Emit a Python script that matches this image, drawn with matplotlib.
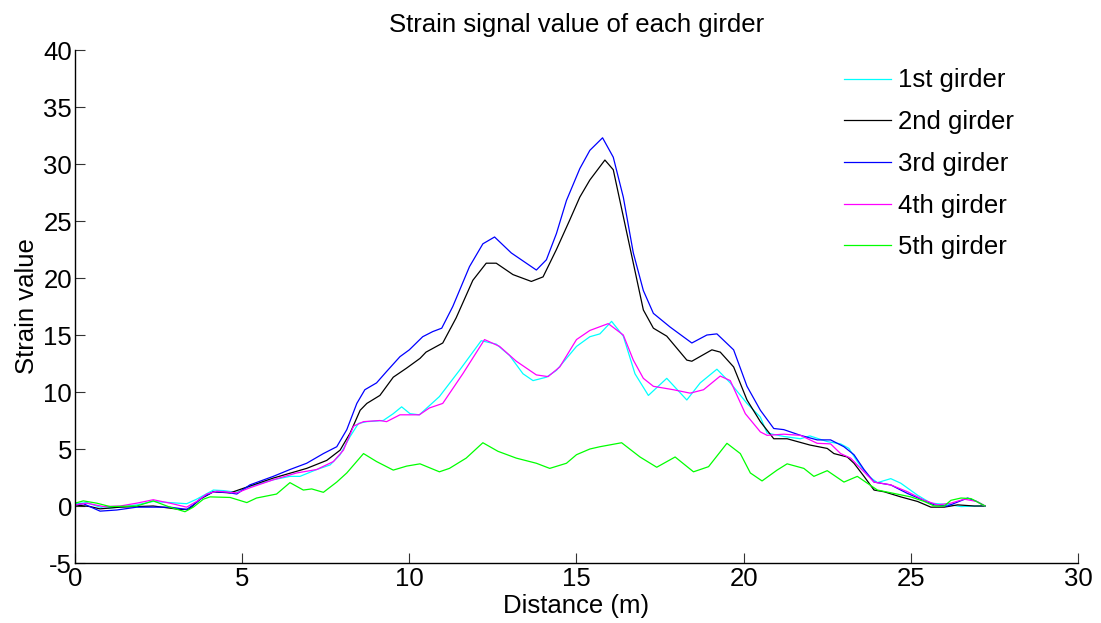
import matplotlib
matplotlib.use("Agg")
import matplotlib.pyplot as plt

plt.rcParams['font.family'] = ['Liberation Sans', 'DejaVu Sans']
plt.rcParams['axes.unicode_minus'] = False

title = "Strain signal value of each girder"
xlabel = "Distance (m)"
ylabel = "Strain value"
labels = ["1st girder", "2nd girder", "3rd girder", "4th girder", "5th girder"]
colors = ["#00ffff", "#000000", "#0000ff", "#ff00ff", "#00ff00"]
xticks = [0, 5, 10, 15, 20, 25, 30]
yticks = [-5, 0, 5, 10, 15, 20, 25, 30, 35, 40]

# 1st girder (cyan)
x1 = [0.0, 0.35, 0.85, 1.35, 1.85, 2.34, 2.84, 3.34, 3.64, 4.14, 4.44, 4.84, 5.23, 5.93, 6.43, 6.73,
      7.23, 7.63, 7.93, 8.23, 8.48, 8.73, 9.22, 9.52, 9.77, 10.02, 10.3, 10.9, 11.5, 12.15, 12.6, 13.0,
      13.4, 13.7, 14.1, 14.4, 15.0, 15.4, 15.7, 16.05, 16.4, 16.75, 17.15, 17.7, 18.3, 18.7, 19.2, 19.6,
      20.1, 20.5, 20.7, 21.2, 21.7, 21.98, 22.5, 22.9, 23.15, 23.4, 23.7, 24.0, 24.4, 24.7, 25.2, 25.6,
      26.2, 26.5, 26.97, 27.22]
y1 = [0.2, 0.3, -0.2, -0.1, 0.1, 0.4, 0.3, 0.2, 0.6, 1.4, 1.35, 1.2, 1.7, 2.3, 2.6, 2.6,
      3.2, 3.6, 4.5, 6.1, 7.25, 7.4, 7.5, 8.1, 8.7, 8.1, 8.0, 9.6, 11.9, 14.5, 14.2, 13.2,
      11.6, 11.0, 11.3, 11.9, 14.0, 14.85, 15.1, 16.2, 14.9, 11.6, 9.7, 11.2, 9.3, 10.8, 12.0, 10.8,
      9.0, 7.8, 6.4, 6.1, 5.9, 6.15, 5.65, 5.45, 5.05, 3.9, 2.7, 2.05, 2.4, 2.0, 0.95, 0.25,
      0.1, -0.05, 0.0, 0.0]

# 2nd girder (black)
x2 = [0.0, 0.45, 0.75, 1.35, 2.34, 3.14, 3.4, 3.74, 4.14, 4.64, 5.23, 5.93, 6.93, 7.53, 7.93, 8.23,
      8.53, 8.73, 9.12, 9.52, 9.92, 10.32, 10.5, 11.0, 11.4, 11.9, 12.3, 12.6, 13.1, 13.65, 14.0, 14.4,
      14.8, 15.1, 15.4, 15.85, 16.1, 16.4, 16.7, 17.0, 17.3, 17.7, 18.3, 18.45, 19.05, 19.3, 19.7, 20.1,
      20.5, 20.9, 21.3, 21.98, 22.5, 22.7, 23.1, 23.3, 23.6, 23.9, 24.2, 24.7, 25.2, 25.6, 26.0, 26.4,
      26.9, 27.22]
y2 = [0.1, -0.05, -0.25, -0.1, 0.0, -0.3, -0.3, 0.6, 1.25, 1.15, 1.75, 2.45, 3.3, 4.0, 4.9, 6.4,
      8.4, 9.0, 9.7, 11.3, 12.1, 12.95, 13.5, 14.3, 16.5, 19.8, 21.3, 21.3, 20.3, 19.7, 20.1, 22.5,
      25.1, 27.1, 28.6, 30.35, 29.5, 25.4, 21.3, 17.2, 15.6, 14.9, 12.8, 12.7, 13.7, 13.5, 12.2, 9.3,
      7.4, 5.9, 5.9, 5.35, 5.05, 4.6, 4.3, 3.75, 2.6, 1.4, 1.25, 0.8, 0.4, -0.1, -0.1, 0.1,
      0.0, 0.0]

# 3rd girder (blue)
x3 = [0.0, 0.25, 0.75, 1.25, 1.85, 2.84, 3.34, 3.54, 3.84, 4.14, 4.54, 4.84, 5.23, 5.93, 6.43, 6.93,
      7.43, 7.83, 8.13, 8.43, 8.67, 9.02, 9.32, 9.72, 10.0, 10.4, 10.7, 10.97, 11.3, 11.8, 12.2, 12.55,
      13.05, 13.4, 13.8, 14.1, 14.4, 14.7, 15.1, 15.4, 15.78, 16.1, 16.4, 16.7, 17.0, 17.3, 17.8, 18.45,
      18.9, 19.2, 19.7, 20.1, 20.5, 20.9, 21.2, 21.7, 22.2, 22.6, 23.0, 23.3, 23.6, 23.9, 24.4, 24.9,
      25.3, 25.7, 26.1, 26.7, 26.97, 27.22]
y3 = [0.1, 0.2, -0.45, -0.35, -0.1, -0.1, -0.3, 0.1, 0.8, 1.25, 1.2, 1.05, 1.85, 2.6, 3.2, 3.75,
      4.6, 5.2, 6.7, 9.0, 10.2, 10.8, 11.8, 13.1, 13.7, 14.85, 15.3, 15.6, 17.5, 21.0, 23.0, 23.6,
      22.2, 21.5, 20.7, 21.6, 23.9, 26.8, 29.6, 31.2, 32.3, 30.6, 27.1, 22.2, 18.9, 16.9, 15.7, 14.3,
      15.0, 15.1, 13.7, 10.5, 8.4, 6.8, 6.7, 6.2, 5.8, 5.8, 5.2, 4.5, 3.2, 2.1, 1.85, 1.1,
      0.6, 0.1, 0.0, 0.7, 0.4, 0.0]

# 4th girder (magenta)
x4 = [0.0, 0.35, 0.85, 1.35, 1.85, 2.34, 2.84, 3.34, 3.64, 3.94, 4.24, 4.84, 5.23, 5.93, 6.63, 7.23,
      7.73, 8.03, 8.33, 8.63, 9.12, 9.32, 9.72, 10.3, 10.6, 11.0, 11.6, 12.25, 12.7, 13.2, 13.8, 14.15,
      14.5, 15.0, 15.4, 15.95, 16.4, 16.7, 17.0, 17.3, 17.9, 18.4, 18.8, 19.3, 19.6, 20.05, 20.5, 20.7,
      21.2, 21.7, 22.2, 22.6, 22.9, 23.2, 23.5, 23.9, 24.4, 24.9, 25.4, 25.8, 26.2, 26.6, 26.97, 27.22]
y4 = [0.1, 0.25, -0.05, 0.0, 0.25, 0.55, 0.25, -0.1, 0.4, 1.05, 1.3, 1.15, 1.6, 2.3, 2.9, 3.2,
      3.9, 4.9, 7.0, 7.4, 7.5, 7.4, 8.0, 8.0, 8.6, 9.0, 11.6, 14.6, 14.0, 12.7, 11.5, 11.35,
      12.2, 14.6, 15.4, 16.0, 15.0, 12.8, 11.2, 10.5, 10.2, 9.9, 10.2, 11.4, 11.0, 8.1, 6.5, 6.2,
      6.3, 6.2, 5.5, 5.45, 4.6, 4.2, 3.3, 2.1, 1.85, 1.25, 0.5, 0.1, 0.25, 0.6, 0.4, 0.0]

# 5th girder (green)
x5 = [0.0, 0.25, 0.65, 1.05, 1.85, 2.34, 2.84, 3.29, 3.54, 3.84, 4.04, 4.64, 5.14, 5.43, 6.03, 6.43,
      6.83, 7.08, 7.43, 7.83, 8.13, 8.63, 9.02, 9.52, 9.92, 10.32, 10.9, 11.2, 11.7, 12.2, 12.65, 13.2,
      13.8, 14.2, 14.7, 15.0, 15.4, 15.7, 16.35, 16.9, 17.4, 17.95, 18.5, 18.95, 19.5, 19.9, 20.2, 20.55,
      21.0, 21.3, 21.8, 22.1, 22.5, 23.0, 23.4, 23.7, 24.0, 24.5, 25.0, 25.4, 25.7, 26.0, 26.2, 26.5,
      26.8, 27.22]
y5 = [0.25, 0.45, 0.25, -0.05, 0.0, 0.45, -0.1, -0.5, -0.1, 0.6, 0.8, 0.75, 0.3, 0.7, 1.05, 2.05,
      1.4, 1.5, 1.2, 2.1, 2.9, 4.6, 3.9, 3.15, 3.5, 3.7, 3.0, 3.3, 4.2, 5.55, 4.8, 4.2,
      3.75, 3.3, 3.75, 4.5, 5.0, 5.2, 5.55, 4.3, 3.4, 4.3, 3.0, 3.45, 5.5, 4.6, 2.9, 2.2,
      3.15, 3.7, 3.3, 2.6, 3.1, 2.1, 2.6, 2.0, 1.4, 1.1, 0.8, 0.4, 0.0, 0.0, 0.5, 0.7,
      0.65, 0.0]

xs = [x1, x2, x3, x4, x5]
ys = [y1, y2, y3, y4, y5]

FS = 18.5

fig = plt.figure(figsize=(11.01, 6.23), dpi=100)
ax = fig.add_axes([0.0681, 0.0963, 0.9110, 0.8234])

for xv, yv, c, lab in zip(xs, ys, colors, labels):
    ax.plot(xv, yv, color=c, lw=0.9, label=lab)

ax.set_xlim(0, 30)
ax.set_ylim(-5, 40)
ax.set_xticks(xticks)
ax.set_yticks(yticks)
ax.spines['top'].set_visible(False)
ax.spines['right'].set_visible(False)
ax.spines['left'].set_linewidth(1.0)
ax.spines['bottom'].set_linewidth(1.0)
ax.tick_params(direction='in', length=7, width=0.8, color='#333333', labelsize=FS, pad=2)
ax.tick_params(axis='x', pad=3)

ax.set_title(title, fontsize=FS, pad=13)
ax.set_xlabel(xlabel, fontsize=FS, labelpad=2)
ax.set_ylabel(ylabel, fontsize=FS, labelpad=3)

leg = ax.legend(loc='upper left', bbox_to_anchor=(0.767, 0.964), frameon=False, fontsize=FS,
                handlelength=1.83, handletextpad=0.25, labelspacing=0.69, borderaxespad=0,
                borderpad=0)

fig.savefig("out.png", dpi=100)
